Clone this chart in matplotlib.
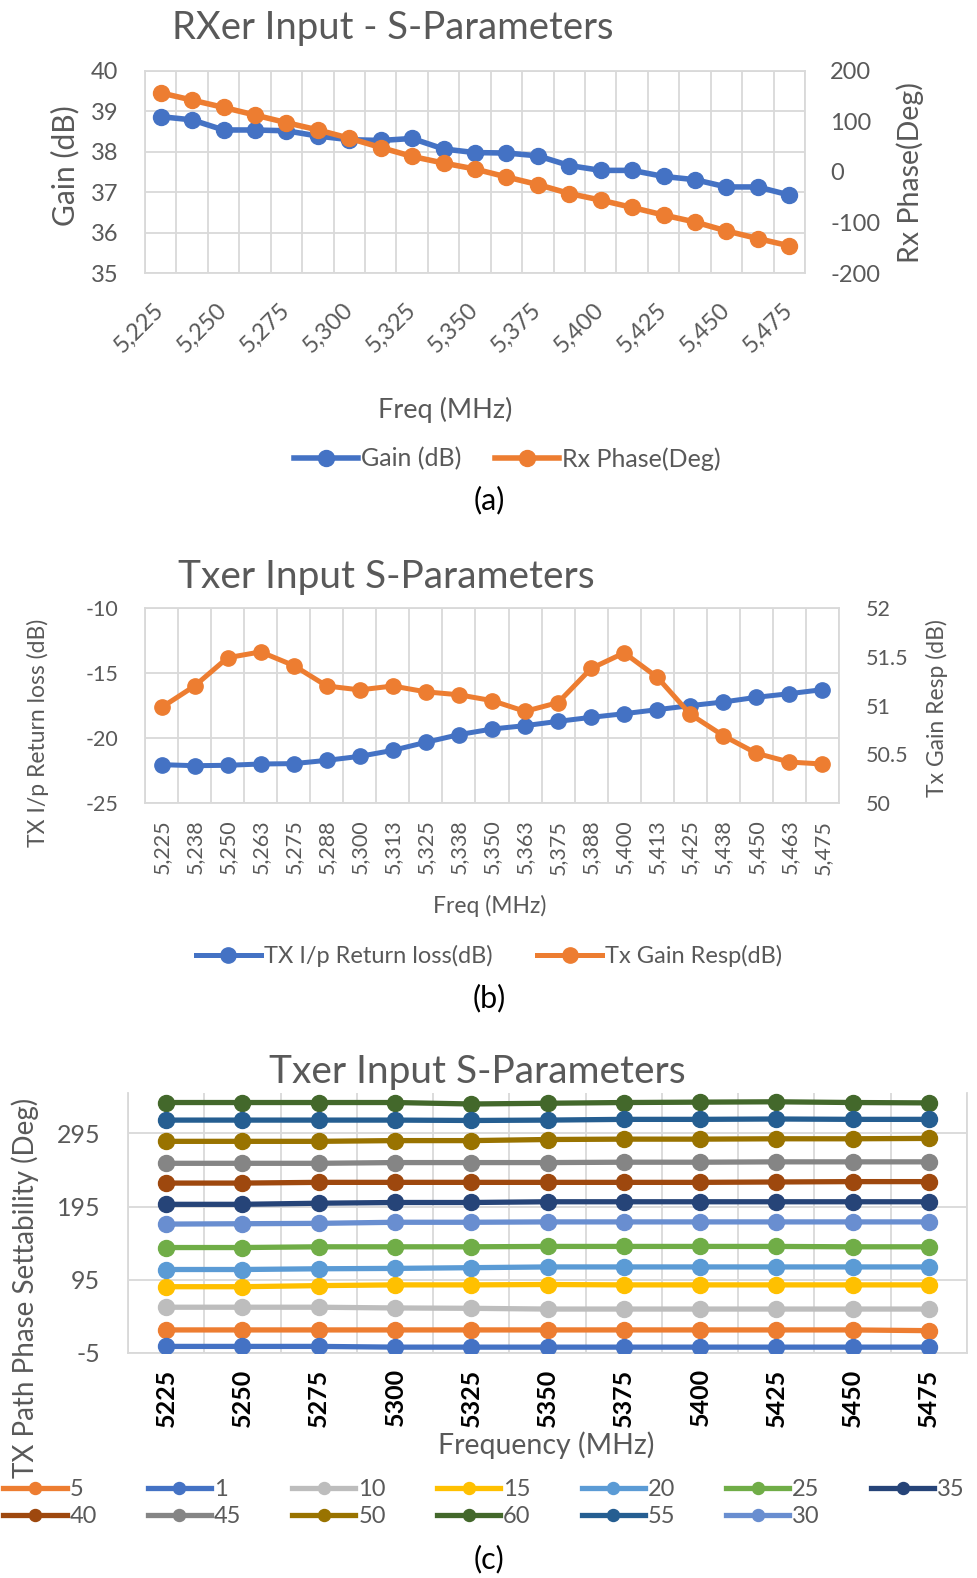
import matplotlib
matplotlib.use("Agg")
import matplotlib.pyplot as plt
import numpy as np

plt.rcParams['font.family'] = ['Lato', 'DejaVu Sans']
plt.rcParams['axes.unicode_minus'] = False

# ---------------- data ----------------
# (a) RXer input
freq_labels_ab = ['5,225', '5,238', '5,250', '5,263', '5,275', '5,288', '5,300',
                  '5,313', '5,325', '5,338', '5,350', '5,363', '5,375', '5,388',
                  '5,400', '5,413', '5,425', '5,438', '5,450', '5,463', '5,475']
gain_db = [38.87, 38.79, 38.54, 38.54, 38.52, 38.39, 38.30, 38.28, 38.33, 38.07,
           37.98, 37.97, 37.90, 37.66, 37.54, 37.54, 37.39, 37.31, 37.13, 37.13, 36.93]
rx_phase = [156.7, 142.3, 127.9, 112.8, 97.7, 83.3, 66.9, 48.5, 30.8, 17.7, 5.9,
            -9.8, -24.9, -42.6, -55.7, -70.2, -85.2, -99.0, -116.7, -131.8, -146.2]

# (b) Txer input
tx_return_loss = [-22.05, -22.13, -22.10, -22.00, -21.97, -21.72, -21.41, -20.95,
                  -20.33, -19.74, -19.31, -19.05, -18.72, -18.41, -18.13, -17.82,
                  -17.51, -17.23, -16.87, -16.59, -16.28]
tx_gain_resp = [50.98, 51.20, 51.49, 51.55, 51.41, 51.20, 51.16, 51.20, 51.14, 51.11,
                51.05, 50.94, 51.03, 51.38, 51.54, 51.29, 50.91, 50.69, 50.51, 50.42, 50.40]

# (c) phase settability
freq_c = ['5225', '5250', '5275', '5300', '5325', '5350', '5375', '5400', '5425', '5450', '5475']
series_names = ['5', '1', '10', '15', '20', '25', '35', '40', '45', '50', '60', '55', '30']
p5 = [26.5, 26.5, 26.5, 26.5, 26.5, 26.5, 26.5, 26.5, 26.5, 26.5, 25.5]
p1 = [4, 4, 4, 3, 3, 3, 3, 3, 3, 3, 3]
p10 = [57.5, 57.5, 57.5, 56.5, 56, 55, 55, 55, 55, 55, 55]
p15 = [85.5, 85.5, 87, 88, 88, 88.5, 88, 88, 88, 88, 88]
p20 = [109, 109, 110, 110.5, 111.5, 112.5, 112.5, 112.5, 112.5, 112.5, 112.5]
p25 = [139, 139, 140, 140, 140, 140.5, 140.5, 140.5, 140.5, 140, 140]
p35 = [198, 198, 199.5, 200.5, 200.5, 201.5, 201.5, 201.5, 201.5, 201.5, 201.5]
p40 = [227, 227, 228, 228, 228, 228, 228, 228, 228.5, 229, 229]
p45 = [254, 254, 254, 255, 255, 255, 255.5, 255.5, 256, 256, 256]
p50 = [284, 284, 284, 285, 285, 286.5, 287, 287, 287.5, 287.5, 288]
p60 = [337, 337, 337, 337, 335, 336, 337, 337.5, 338, 337, 336.5]
p55 = [313, 313, 313, 313, 312.5, 313, 314, 314, 314.5, 314, 314]
p30 = [171, 171.5, 172, 173.5, 173.5, 174, 174, 174, 174, 174, 174]
series_values = [p5, p1, p10, p15, p20, p25, p35, p40, p45, p50, p60, p55, p30]
series_colors = ['#ED7D31', '#4472C4', '#BDBDBD', '#FFC000', '#5B9BD5', '#70AD47',
                 '#264478', '#9E480E', '#858585', '#997300', '#43682B', '#255E91', '#698ED0']
# legend rows as shown: row 1 then row 2
legend_row1 = ['5', '1', '10', '15', '20', '25', '35']
legend_row2 = ['40', '45', '50', '60', '55', '30']

# ---------------- layout helpers ----------------
W, H = 978, 1578
fig = plt.figure(figsize=(W / 100, H / 100), dpi=100)


def rect(l, t, r, b):
    return [l / W, 1 - b / H, (r - l) / W, (b - t) / H]


def fx(x):
    return x / W


def fy(y):
    return 1 - y / H


GRAY = '#595959'
GRID = '#D9D9D9'
BLUE = '#4472C4'
ORANGE = '#ED7D31'
GLW = 1.3


def style_axes(ax, n):
    ax.set_xlim(-0.5, n - 0.5)
    ax.set_xticks(np.arange(-0.5, n), minor=True)
    ax.grid(axis='y', which='major', color=GRID, lw=GLW)
    ax.grid(axis='x', which='minor', color=GRID, lw=GLW)
    ax.grid(axis='x', which='major', visible=False)
    ax.set_axisbelow(True)
    ax.tick_params(which='both', length=0, colors=GRAY)
    for s in ax.spines.values():
        s.set_color(GRID)
        s.set_linewidth(GLW)


def set_ylabel_at(axis, text, x, y, size, rot=90):
    axis.set_label_text(text, fontsize=size, color=GRAY, rotation=rot)
    axis.set_label_coords(fx(x), fy(y), transform=fig.transFigure)
    axis.label.set_va('center')
    axis.label.set_ha('center')
    axis.label.set_rotation_mode('anchor')


# ---------------- (a) ----------------
xa = np.arange(len(freq_labels_ab))
ax = fig.add_axes(rect(145, 71, 805, 273))
l1, = ax.plot(xa, gain_db, color=BLUE, lw=4, marker='o', ms=11.5, label='Gain (dB)', zorder=3)
ax.set_ylim(35, 40)
ax.set_yticks([35, 36, 37, 38, 39, 40])
style_axes(ax, len(xa))
ax.set_xticks(xa[::2])
ax.set_xticklabels(freq_labels_ab[::2])
plt.setp(ax.get_xticklabels(), rotation=45, ha='right', va='center', rotation_mode='anchor', fontsize=17, color=GRAY)
ax.tick_params(axis='x', pad=24)
ax.tick_params(axis='y', labelsize=17, pad=19)
ax2 = ax.twinx()
l2, = ax2.plot(xa, rx_phase, color=ORANGE, lw=4, marker='o', ms=11.5, label='Rx Phase(Deg)', zorder=3)
ax2.set_ylim(-200, 200)
ax2.set_yticks([-200, -100, 0, 100, 200])
ax2.tick_params(length=0, colors=GRAY, labelsize=17, pad=18)
for s in ax2.spines.values():
    s.set_visible(False)
fig.text(fx(393), fy(28), 'RXer Input - S-Parameters', fontsize=27.5, color=GRAY, ha='center', va='center')
set_ylabel_at(ax.yaxis, 'Gain (dB)', 65, 166, 21.5)
set_ylabel_at(ax2.yaxis, 'Rx Phase(Deg)', 910, 173, 20.5)
ax.set_xlabel('Freq (MHz)', fontsize=19.5, color=GRAY)
ax.xaxis.set_label_coords(fx(445), fy(410), transform=fig.transFigure)
ax.xaxis.label.set_va('center')
ax.legend([l1, l2], ['Gain (dB)', 'Rx Phase(Deg)'], loc='center', bbox_to_anchor=(fx(507), fy(459)),
          bbox_transform=fig.transFigure, ncol=2, frameon=False, fontsize=18, handlelength=2.55,
          handletextpad=0.12, columnspacing=1.35, borderpad=0, labelcolor=GRAY)
fig.text(fx(489), fy(500), '(a)', fontsize=22, color='black', ha='center', va='center')

# ---------------- (b) ----------------
xb = np.arange(len(freq_labels_ab))
bx = fig.add_axes(rect(145, 608, 839, 803))
m1, = bx.plot(xb, tx_return_loss, color=BLUE, lw=3.6, marker='o', ms=11, zorder=3)
bx.set_ylim(-25, -10)
bx.set_yticks([-25, -20, -15, -10])
style_axes(bx, len(xb))
bx.set_xticks(xb)
bx.set_xticklabels(freq_labels_ab, rotation=90, fontsize=15.5, color=GRAY)
bx.tick_params(axis='x', pad=12)
bx.tick_params(axis='y', labelsize=15.5, pad=19)
bx2 = bx.twinx()
m2, = bx2.plot(xb, tx_gain_resp, color=ORANGE, lw=3.6, marker='o', ms=11, zorder=3)
bx2.set_ylim(50, 52)
bx2.set_yticks([50, 50.5, 51, 51.5, 52])
bx2.set_yticklabels(['50', '50.5', '51', '51.5', '52'])
bx2.tick_params(length=0, colors=GRAY, labelsize=15.5, pad=19)
for s in bx2.spines.values():
    s.set_visible(False)
fig.text(fx(386), fy(577), 'Txer Input S-Parameters', fontsize=28, color=GRAY, ha='center', va='center')
set_ylabel_at(bx.yaxis, 'TX I/p Return loss (dB)', 38, 733, 16.5)
set_ylabel_at(bx2.yaxis, 'Tx Gain Resp (dB)', 937, 708, 16.5)
bx.set_xlabel('Freq (MHz)', fontsize=16.5, color=GRAY)
bx.xaxis.set_label_coords(fx(490), fy(906), transform=fig.transFigure)
bx.xaxis.label.set_va('center')
bx.legend([m1, m2], ['TX I/p Return loss(dB)', 'Tx Gain Resp(dB)'], loc='center',
          bbox_to_anchor=(fx(489), fy(956)), bbox_transform=fig.transFigure, ncol=2, frameon=False,
          fontsize=17, handlelength=2.75, handletextpad=0.12, columnspacing=1.9, borderpad=0,
          labelcolor=GRAY)
fig.text(fx(489), fy(998), '(b)', fontsize=22, color='black', ha='center', va='center')

# ---------------- (c) ----------------
xc = np.arange(len(freq_c))
cx = fig.add_axes(rect(128, 1093, 967, 1353))
handle_by_name = {}
for name, vals, col in zip(series_names, series_values, series_colors):
    h, = cx.plot(xc, vals, color=col, lw=3.8, marker='o', ms=11.5, label=name, zorder=3)
    handle_by_name[name] = h
cx.set_ylim(-5, 350)
cx.set_yticks([-5, 95, 195, 295])
style_axes(cx, len(xc))
cx.spines['top'].set_visible(False)
cx.set_xticks(xc)
cx.set_xticklabels(freq_c, rotation=90, fontsize=18, color='black', fontweight='bold')
cx.tick_params(axis='x', pad=11, labelcolor='black')
cx.tick_params(axis='y', labelsize=18, pad=20)
fig.text(fx(477), fy(1072), 'Txer Input S-Parameters', fontsize=28, color=GRAY, ha='center', va='center')
set_ylabel_at(cx.yaxis, 'TX Path Phase Settability (Deg)', 25, 1288, 20)
cx.set_xlabel('Frequency (MHz)', fontsize=20.5, color=GRAY)
cx.xaxis.set_label_coords(fx(546), fy(1445), transform=fig.transFigure)
cx.xaxis.label.set_va('center')
# legend is filled column by column -> interleave the two rows
leg_order = []
for i in range(len(legend_row1)):
    leg_order.append(legend_row1[i])
    if i < len(legend_row2):
        leg_order.append(legend_row2[i])
cx.legend([handle_by_name[n] for n in leg_order], leg_order, loc='center',
          bbox_to_anchor=(fx(484), fy(1503)), bbox_transform=fig.transFigure, ncol=7,
          frameon=False, fontsize=17, handlelength=2.67, handletextpad=0.12, columnspacing=2.17,
          borderpad=0, labelspacing=0.25, markerscale=0.75, labelcolor=GRAY)
fig.text(fx(489), fy(1559), '(c)', fontsize=22, color='black', ha='center', va='center')

fig.savefig('out.png', dpi=100)
